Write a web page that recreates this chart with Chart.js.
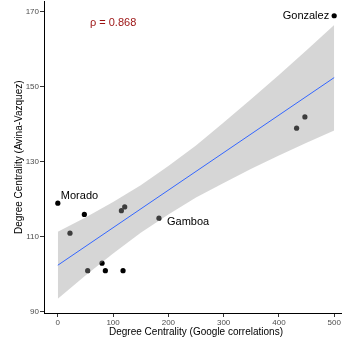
<!DOCTYPE html>
<html>
<head>
<meta charset="utf-8">
<script src="https://cdn.jsdelivr.net/npm/chart.js@4/dist/chart.umd.min.js"></script>
<style>
html, body { margin: 0; padding: 0; background: #fff; }
#wrap { width: 342px; height: 344px; overflow: hidden; }
canvas { display: block; }
</style>
</head>
<body>
<div id="wrap"><canvas id="chart" width="348" height="344"></canvas></div>
<script>
// points: degree centrality, Google correlations (x) vs Avina-Vazquez (y)
const googleDegree = [0, 22, 48, 54, 80, 86, 115, 121, 118, 183, 432, 447, 500];
const avinaDegree = [119, 111, 116, 101, 103, 101, 117, 118, 101, 115, 139, 142, 169];
const pointNames = ['Morado', '', '', '', '', '', '', '', '', 'Gamboa', '', '', 'Gonzalez'];

// fitted line and its grey band
const bandX = [0, 50, 100, 150, 200, 250, 300, 350, 400, 450, 500];
const bandLower = [93.5, 99.7, 105.6, 111.1, 116.0, 120.5, 124.4, 128.2, 131.7, 135.1, 138.4];
const bandUpper = [111.4, 115.2, 119.3, 123.8, 128.9, 134.4, 140.5, 146.8, 153.2, 159.8, 166.5];
const fitX = [0, 500];
const fitY = [102.45, 152.5];

const xTicks = [0, 100, 200, 300, 400, 500];
const yTicks = [90, 110, 130, 150, 170];
const rhoText = 'ρ = 0.868';
const rhoAt = [100, 167];

const FONT = '"Liberation Sans", Arial, Helvetica, sans-serif';
Chart.defaults.font.family = FONT;

// pixel nudges for the name labels
const labelOffsets = {
    Morado: [3, -7, 'left'],
    Gamboa: [8, 4, 'left'],
    Gonzalez: [-5, 0, 'right']
};

const labelPlugin = {
    id: 'pointLabels',
    afterDatasetsDraw(chart) {
        const { ctx, scales: { x, y } } = chart;
        ctx.save();
        ctx.font = '11px ' + FONT;
        ctx.textBaseline = 'middle';
        ctx.fillStyle = '#000';
        pointNames.forEach((name, i) => {
            if (!name) return;
            const [dx, dy, align] = labelOffsets[name];
            ctx.textAlign = align;
            ctx.fillText(name, x.getPixelForValue(googleDegree[i]) + dx, y.getPixelForValue(avinaDegree[i]) + dy);
        });
        ctx.fillStyle = '#9b1111';
        ctx.textAlign = 'center';
        ctx.fillText(rhoText, x.getPixelForValue(rhoAt[0]), y.getPixelForValue(rhoAt[1]));
        ctx.restore();
    }
};

const toXY = (xs, ys) => xs.map((v, i) => ({ x: v, y: ys[i] }));

// no extra room for edge tick labels, the plot area is set by layout padding
const noLabelPadding = s => {
    s.paddingTop = 0;
    s.paddingBottom = 0;
    s.paddingLeft = 0;
    s.paddingRight = 0;
};

const axisBase = {
    grid: { drawOnChartArea: false, drawTicks: true, tickLength: 4, color: '#333', lineWidth: 1 },
    border: { display: true, color: '#000', width: 1 },
    ticks: { color: '#4d4d4d', font: { size: 8 }, padding: 1, maxRotation: 0 }
};

new Chart(document.getElementById('chart'), {
    type: 'scatter',
    data: {
        datasets: [
            {
                label: 'fit',
                type: 'line',
                data: toXY(fitX, fitY),
                borderColor: '#3366FF',
                borderWidth: 1,
                pointRadius: 0,
                fill: false,
                order: 0
            },
            {
                label: 'upper',
                type: 'line',
                data: toXY(bandX, bandUpper),
                borderWidth: 0,
                borderColor: 'rgba(0,0,0,0)',
                pointRadius: 0,
                fill: '+1',
                backgroundColor: 'rgba(153,153,153,0.4)',
                order: 1
            },
            {
                label: 'lower',
                type: 'line',
                data: toXY(bandX, bandLower),
                borderWidth: 0,
                borderColor: 'rgba(0,0,0,0)',
                pointRadius: 0,
                fill: false,
                order: 1
            },
            {
                label: 'actors',
                data: toXY(googleDegree, avinaDegree),
                pointRadius: 2.6,
                backgroundColor: '#000',
                borderWidth: 0,
                order: 2
            }
        ]
    },
    options: {
        responsive: false,
        animation: false,
        layout: { autoPadding: false, padding: { top: 1.5, left: 0, right: 0, bottom: 0 } },
        plugins: { legend: { display: false }, tooltip: { enabled: false } },
        scales: {
            x: {
                ...axisBase,
                type: 'linear',
                min: -25,
                max: 525,
                afterBuildTicks: s => { s.ticks = xTicks.map(v => ({ value: v })); },
                afterFit: s => { s.height = 31; noLabelPadding(s); },
                title: {
                    display: true,
                    text: 'Degree Centrality (Google correlations)',
                    color: '#000',
                    font: { size: 10 },
                    padding: { top: 0, bottom: 6 }
                }
            },
            y: {
                ...axisBase,
                type: 'linear',
                min: 89.7,
                max: 172.8,
                afterBuildTicks: s => { s.ticks = yTicks.map(v => ({ value: v })); },
                afterFit: s => { s.width = 44; noLabelPadding(s); },
                title: {
                    display: true,
                    text: 'Degree Centrality (Avina-Vazquez)',
                    color: '#000',
                    font: { size: 10 },
                    padding: { top: 13.5, bottom: 0 }
                }
            }
        }
    },
    plugins: [labelPlugin]
});
</script>
</body>
</html>
